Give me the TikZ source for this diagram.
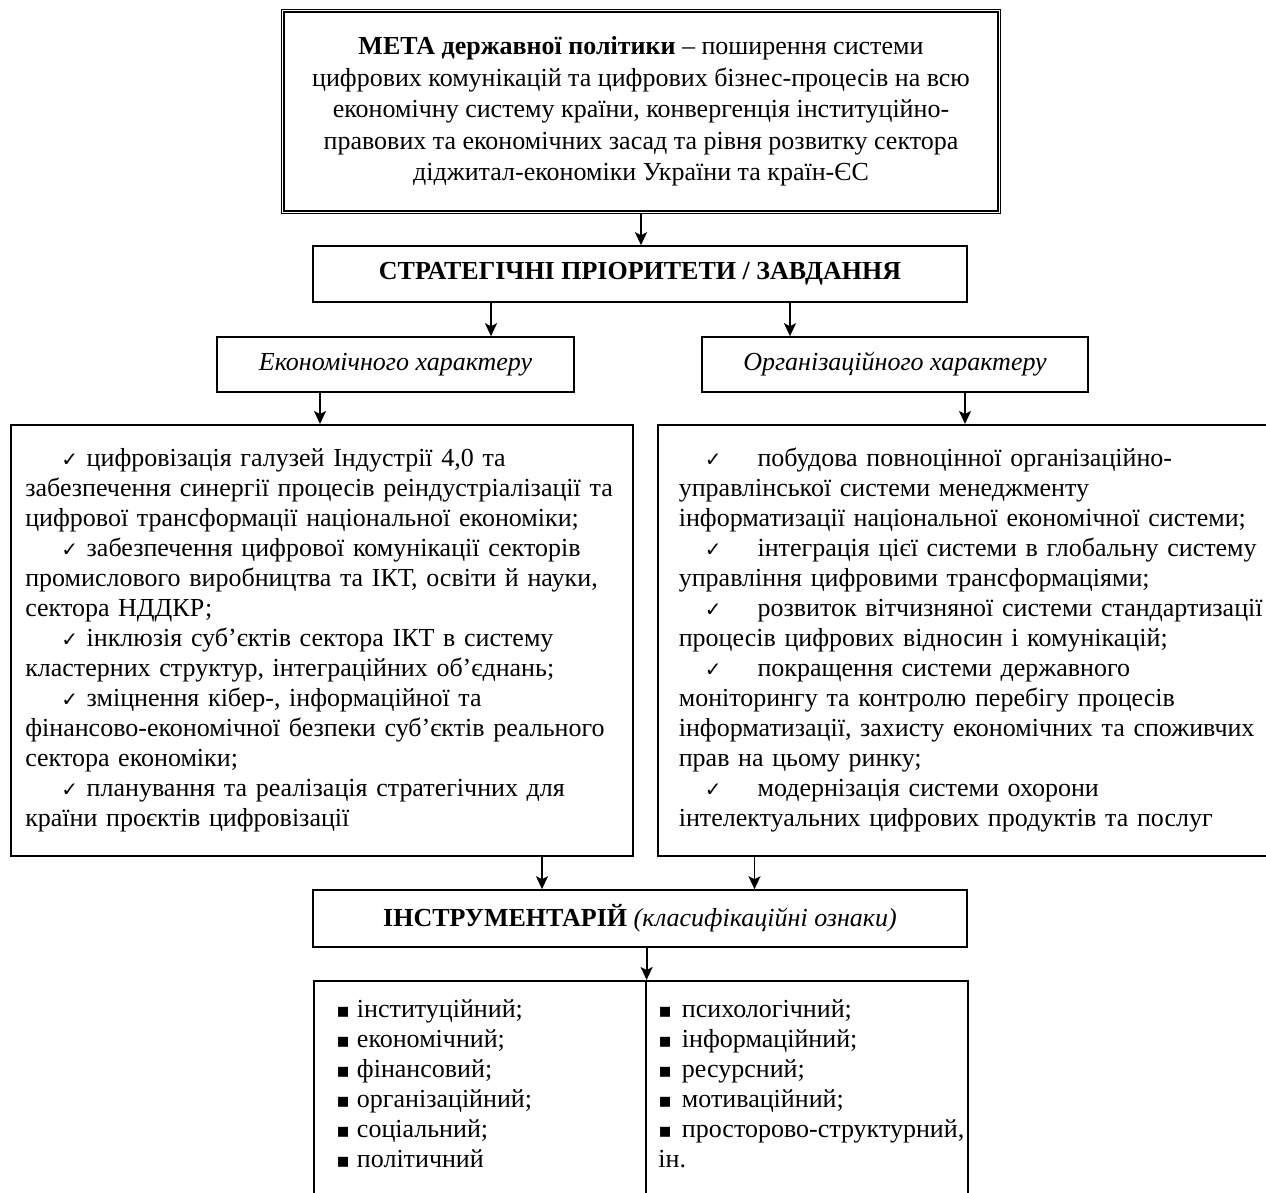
\documentclass[tikz,border=0pt]{standalone}
\usepackage{fontspec}
\setmainfont{Liberation Serif}
\newfontfamily\symfont{DejaVu Sans}
\usetikzlibrary{arrows.meta}
\newcommand\chk{{\symfont\fontsize{10pt}{10pt}\selectfont ✓}}
\newcommand\sqb{{\symfont\fontsize{10pt}{10pt}\selectfont ▪}}
\begin{document}
\begin{tikzpicture}[x=0.5pt,y=-0.5pt,
  box/.style={draw, line width=0.8pt, rectangle, inner sep=0pt, font=\fontsize{13pt}{15pt}\selectfont},
  txt/.style={inner sep=0pt, align=left, font=\fontsize{13pt}{15pt}\selectfont},
  arr/.style={-{Stealth[length=6.5pt,width=6pt,inset=1.5pt]}, line width=0.9pt}]
\useasboundingbox (0,0) rectangle (1266,1193);
\clip (0,0) rectangle (1266,1193);

% top goal box (double border)
\node[box, line width=0.5pt, minimum width=359.5pt, minimum height=102pt, align=center,
      font=\fontsize{13pt}{15.7pt}\selectfont] (meta) at (641,111.5)
 {\textbf{МЕТА державної політики} – поширення системи\\
  цифрових комунікацій та цифрових бізнес-процесів на всю\\
  економічну систему країни, конвергенція інституційно-\\
  правових та економічних засад та рівня розвитку сектора\\
  діджитал-економіки України та країн-ЄС};
\draw[line width=0.9pt] ([shift={(3,3)}]meta.north west) rectangle ([shift={(-3,-3)}]meta.south east);

\node[box, minimum width=327pt, minimum height=28pt] (strat) at (640,274)
 {\textbf{СТРАТЕГІЧНІ ПРІОРИТЕТИ / ЗАВДАННЯ}};

\node[box, minimum width=178.5pt, minimum height=27.5pt] (econ) at (395.5,364.5)
 {\textit{Економічного характеру}};
\node[box, minimum width=193pt, minimum height=27.5pt] (org) at (895,364.5)
 {\textit{Організаційного характеру}};

\node[box, anchor=north west, align=left, inner xsep=7.25pt, text width=296.5pt, minimum height=215.5pt] (lbig) at (10,424)
 {\hspace*{18pt}\chk\ цифровізація галузей Індустрії 4,0 та\\
  забезпечення синергії процесів реіндустріалізації та\\
  цифрової трансформації національної економіки;\\
  \hspace*{18pt}\chk\ забезпечення цифрової комунікації секторів\\
  промислового виробництва та ІКТ, освіти й науки,\\
  сектора НДДКР;\\
  \hspace*{18pt}\chk\ інклюзія суб’єктів сектора ІКТ в систему\\
  кластерних структур, інтеграційних об’єднань;\\
  \hspace*{18pt}\chk\ зміцнення кібер-, інформаційної та\\
  фінансово-економічної безпеки суб’єктів реального\\
  сектора економіки;\\
  \hspace*{18pt}\chk\ планування та реалізація стратегічних для\\
  країни проєктів цифровізації};

\node[box, anchor=north west, align=left, inner xsep=10.5pt, text width=329pt, minimum height=215.5pt] (rbig) at (657,424)
 {\hspace*{13pt}\chk\hspace{18pt}побудова повноцінної організаційно-\\
  управлінської системи менеджменту\\
  інформатизації національної економічної системи;\\
  \hspace*{13pt}\chk\hspace{18pt}інтеграція цієї системи в глобальну систему\\
  управління цифровими трансформаціями;\\
  \hspace*{13pt}\chk\hspace{18pt}розвиток вітчизняної системи стандартизації\\
  процесів цифрових відносин і комунікацій;\\
  \hspace*{13pt}\chk\hspace{18pt}покращення системи державного\\
  моніторингу та контролю перебігу процесів\\
  інформатизації, захисту економічних та споживчих\\
  прав на цьому ринку;\\
  \hspace*{13pt}\chk\hspace{18pt}модернізація системи охорони\\
  інтелектуальних цифрових продуктів та послуг};

\node[box, minimum width=327pt, minimum height=28.5pt] (instr) at (640,918.5)
 {\textbf{ІНСТРУМЕНТАРІЙ} \textit{(класифікаційні ознаки)}};

\node[box, anchor=north west, minimum width=166pt, minimum height=115pt] (bl) at (313,980) {};
\node[box, anchor=north west, minimum width=161pt, minimum height=115pt] (br) at (645,980) {};

\node[txt, anchor=north west] (bltext) at (336,995)
 {\rule{0pt}{11pt}\sqb\hspace{3.5pt}інституційний;\\
  \sqb\hspace{3.5pt}економічний;\\
  \sqb\hspace{3.5pt}фінансовий;\\
  \sqb\hspace{3.5pt}організаційний;\\
  \sqb\hspace{3.5pt}соціальний;\\
  \sqb\hspace{3.5pt}політичний};
\node[txt, anchor=north west] (brtext) at (658,995)
 {\rule{0pt}{11pt}\sqb\hspace{5pt}психологічний;\\
  \sqb\hspace{5pt}інформаційний;\\
  \sqb\hspace{5pt}ресурсний;\\
  \sqb\hspace{5pt}мотиваційний;\\
  \sqb\hspace{5pt}просторово-структурний,\\
  ін.};

% arrow x positions
\coordinate (xa) at (491,0);
\coordinate (xb) at (790,0);
\coordinate (xc) at (320,0);
\coordinate (xd) at (965,0);
\coordinate (xe) at (542,0);
\coordinate (xf) at (754.5,0);

\draw[arr] (meta.south) -- (meta.south |- strat.north);
\draw[arr] (strat.south -| xa) -- (econ.north -| xa);
\draw[arr] (strat.south -| xb) -- (org.north -| xb);
\draw[arr] (econ.south -| xc) -- (lbig.north -| xc);
\draw[arr] (org.south -| xd) -- (rbig.north -| xd);
\draw[arr] (lbig.south -| xe) -- (instr.north -| xe);
\draw[arr] (rbig.south -| xf) -- (instr.north -| xf);
\draw[arr] (instr.south -| bl.north east) -- (bl.north east);
\end{tikzpicture}
\end{document}
